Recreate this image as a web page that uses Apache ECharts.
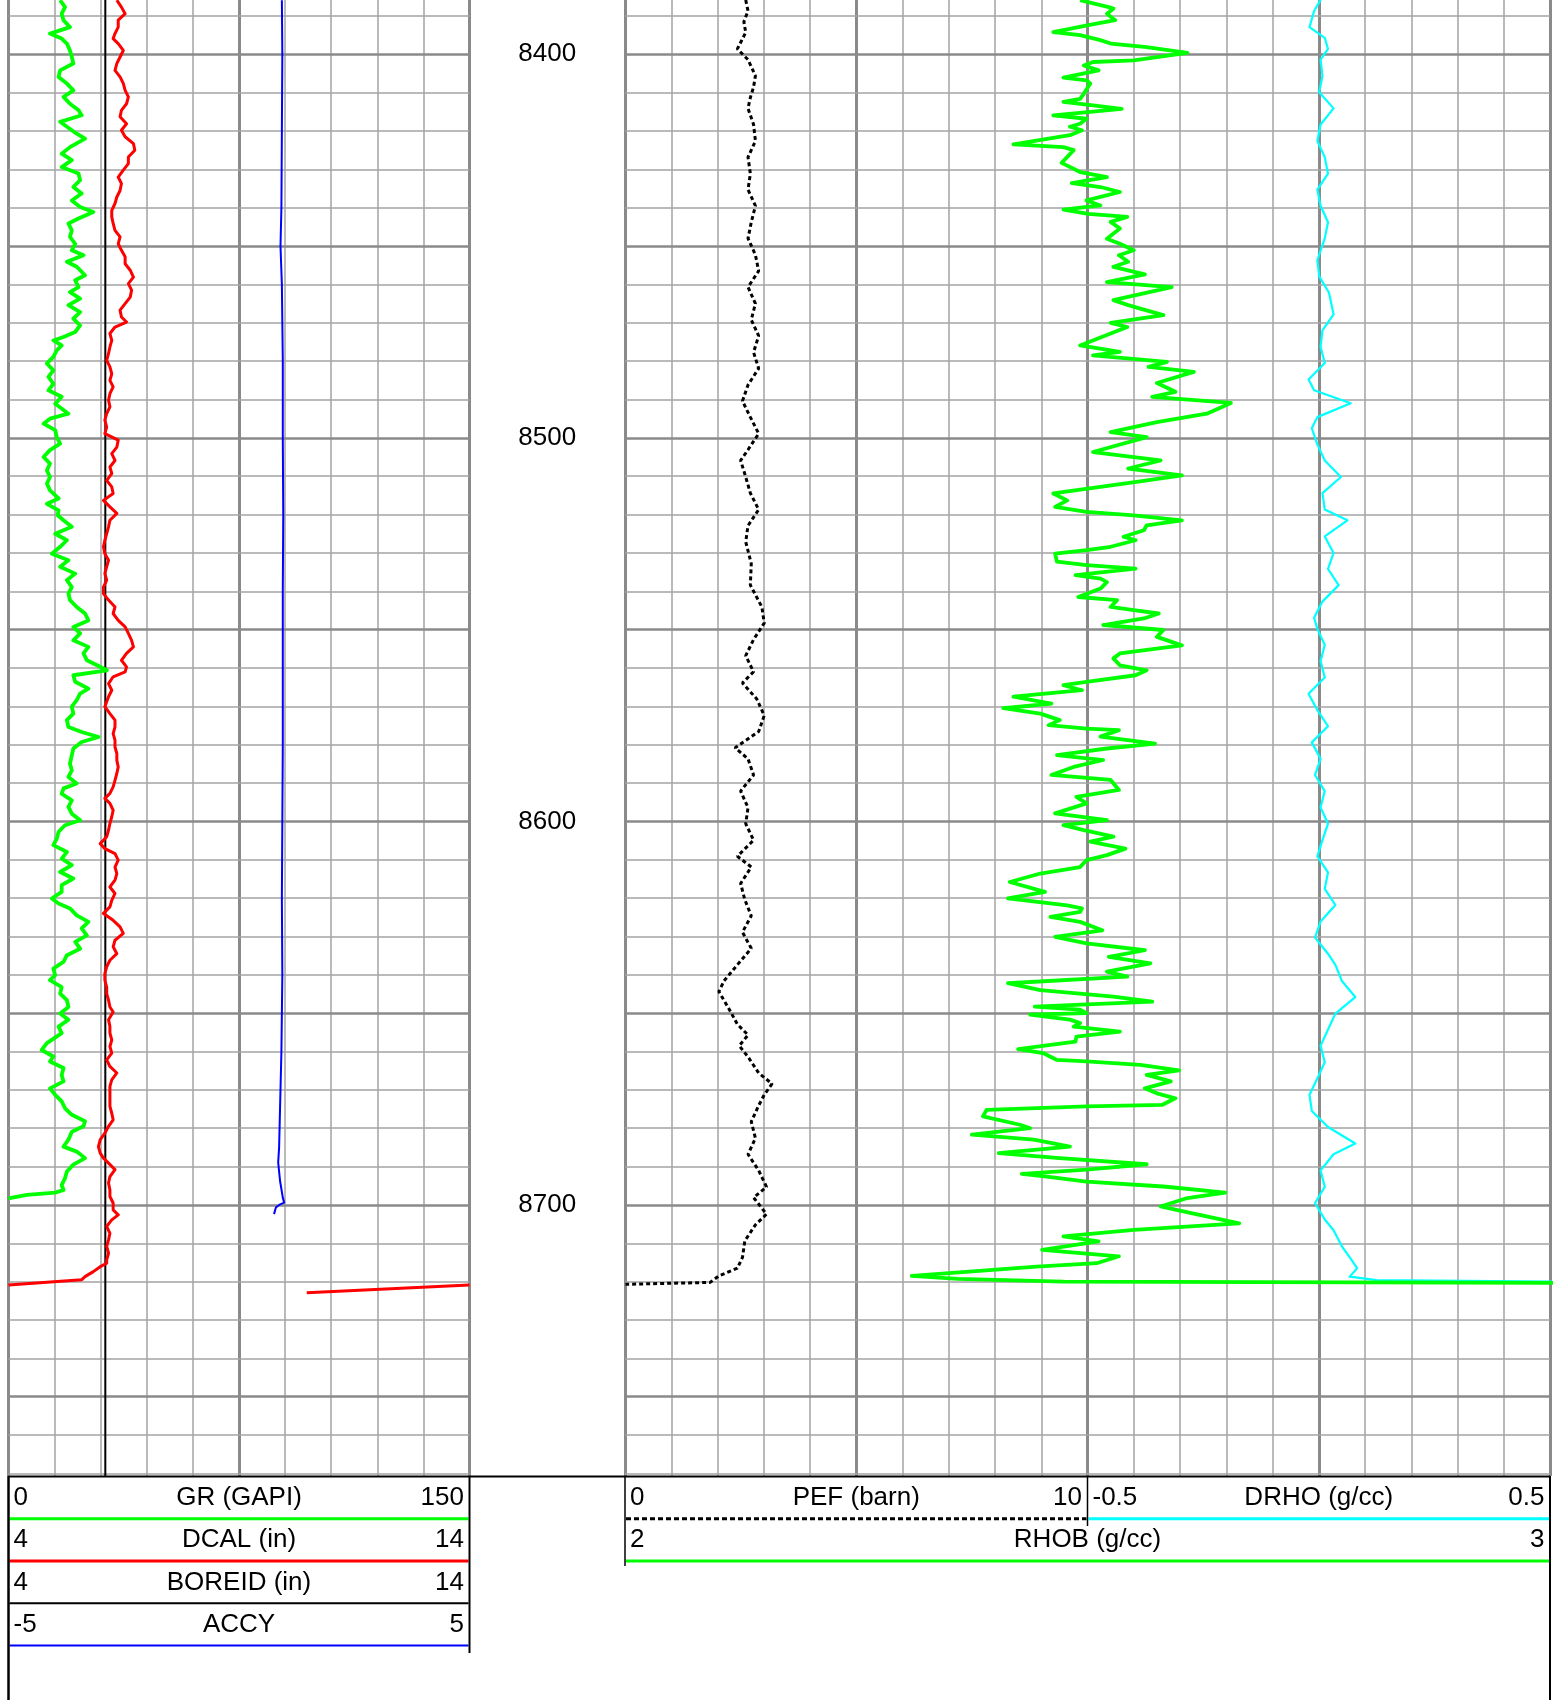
<!DOCTYPE html>
<html>
<head>
<meta charset="utf-8">
<title>Well log</title>
<script src="https://cdn.jsdelivr.net/npm/echarts@6/dist/echarts.min.js"></script>
<style>
  html, body { margin: 0; padding: 0; background: #ffffff; }
  #chart { width: 1564px; height: 1700px; }
</style>
</head>
<body>
<div id="chart"></div>
<script>
// ---- depth window (ft) ----
const DEPTH_TOP = 8385.84;
const DEPTH_BASE = 8770.68;
const DEPTH_LABELS = [8400, 8500, 8600, 8700];

// ---- curves: [depth ft, value] ----
const GR = [[8385.9,16.8],[8387.7,18.4],[8389.4,17.3],[8391.1,17.9],[8392.9,20.0],[8394.6,13.5],[8395.9,17.3],[8397.2,19.0],[8399.0,20.0],[8400.7,20.6],[8402.4,21.1],[8404.2,16.8],[8405.9,16.3],[8407.6,19.0],[8409.4,21.1],[8411.1,17.9],[8412.9,20.0],[8414.6,22.8],[8415.9,23.8],[8417.6,16.8],[8418.9,19.0],[8420.7,22.2],[8422.0,24.9],[8424.2,20.0],[8425.9,17.3],[8427.6,20.6],[8429.4,17.3],[8431.1,22.8],[8432.8,23.3],[8434.6,21.1],[8436.3,23.8],[8438.1,20.6],[8439.8,23.3],[8441.1,27.6],[8442.8,22.8],[8444.1,19.5],[8445.9,20.6],[8447.6,20.0],[8449.4,21.7],[8451.1,20.6],[8452.4,24.4],[8454.1,19.0],[8455.4,22.2],[8457.6,24.9],[8458.9,21.7],[8460.7,22.8],[8462.0,20.0],[8463.7,23.3],[8465.4,19.5],[8467.2,23.3],[8468.9,21.1],[8470.7,23.3],[8472.4,21.7],[8473.7,17.9],[8474.6,14.6],[8475.9,17.3],[8477.2,15.7],[8478.9,14.6],[8480.6,12.5],[8482.4,14.6],[8484.1,13.0],[8485.9,14.6],[8487.6,13.0],[8489.3,17.3],[8491.1,15.2],[8493.7,19.5],[8495.0,13.5],[8496.3,11.4],[8498.0,15.2],[8499.8,15.7],[8501.5,16.8],[8503.2,13.5],[8505.0,11.4],[8506.7,13.5],[8508.5,12.5],[8510.2,13.5],[8511.9,12.5],[8513.7,13.5],[8515.8,16.3],[8517.2,12.5],[8518.9,16.3],[8520.2,16.0],[8521.5,17.9],[8523.2,20.6],[8525.0,15.2],[8526.7,19.0],[8528.4,16.8],[8530.2,14.1],[8531.9,19.5],[8533.6,16.8],[8535.4,21.7],[8537.1,19.0],[8538.9,20.6],[8540.6,19.5],[8542.3,20.0],[8544.1,22.2],[8545.8,24.9],[8547.6,26.0],[8549.3,21.1],[8551.0,23.3],[8552.8,21.1],[8554.5,26.0],[8556.2,24.4],[8558.0,25.5],[8559.7,29.8],[8560.6,32.0],[8561.9,21.1],[8563.6,21.7],[8565.4,26.0],[8566.7,23.3],[8568.4,22.2],[8570.1,20.6],[8571.9,21.1],[8573.6,19.0],[8575.4,19.5],[8576.7,23.8],[8578.0,29.3],[8579.3,23.8],[8581.0,21.1],[8582.8,20.6],[8584.9,20.0],[8586.7,20.6],[8588.4,19.5],[8590.1,22.2],[8591.4,17.9],[8592.8,17.3],[8594.5,20.6],[8596.2,19.5],[8598.0,20.6],[8599.7,23.3],[8601.0,18.4],[8602.7,16.3],[8604.5,15.7],[8606.2,14.6],[8608.0,19.0],[8609.7,17.3],[8611.4,20.6],[8613.2,16.8],[8614.9,21.1],[8616.6,17.3],[8618.4,17.3],[8620.1,14.1],[8621.4,16.3],[8622.7,20.0],[8624.5,22.2],[8626.2,26.0],[8627.9,23.8],[8629.7,25.5],[8631.4,21.7],[8633.2,23.3],[8634.9,19.0],[8636.6,17.9],[8638.4,14.6],[8640.1,15.2],[8641.4,13.5],[8643.2,17.3],[8644.9,16.8],[8646.6,19.0],[8648.4,19.5],[8650.1,16.8],[8651.7,19.5],[8653.5,16.3],[8655.2,17.3],[8657.8,12.5],[8659.6,10.8],[8661.3,14.6],[8662.6,13.5],[8664.3,17.9],[8666.1,17.3],[8667.8,17.9],[8669.6,13.5],[8671.3,15.2],[8673.0,17.3],[8674.8,18.4],[8676.5,20.6],[8678.2,24.9],[8679.5,24.4],[8680.9,20.6],[8683.0,19.5],[8684.8,17.9],[8686.1,22.2],[8687.8,24.9],[8689.5,21.1],[8691.3,19.0],[8693.0,18.4],[8694.8,17.3],[8696.1,17.9],[8696.8,15.2],[8697.4,6.0],[8698.3,0.0]];

const DCAL = [[8385.9,6.35],[8387.7,6.45],[8389.4,6.53],[8391.1,6.38],[8392.9,6.38],[8394.6,6.31],[8395.9,6.27],[8397.2,6.38],[8399.0,6.49],[8400.7,6.42],[8402.4,6.35],[8404.2,6.31],[8405.9,6.42],[8407.6,6.49],[8409.4,6.53],[8411.1,6.60],[8412.9,6.56],[8414.6,6.45],[8416.3,6.42],[8418.1,6.56],[8419.8,6.45],[8421.5,6.53],[8423.3,6.71],[8425.0,6.74],[8426.8,6.60],[8428.5,6.60],[8430.2,6.49],[8432.0,6.38],[8433.7,6.45],[8435.5,6.42],[8437.2,6.35],[8438.9,6.31],[8440.7,6.24],[8442.4,6.24],[8444.1,6.27],[8445.9,6.31],[8447.6,6.42],[8449.4,6.38],[8451.1,6.45],[8452.8,6.53],[8454.6,6.53],[8456.3,6.64],[8458.1,6.71],[8459.8,6.60],[8461.5,6.67],[8463.3,6.64],[8465.0,6.53],[8466.7,6.42],[8468.5,6.45],[8469.8,6.56],[8471.1,6.31],[8472.8,6.20],[8474.6,6.24],[8476.3,6.20],[8478.0,6.17],[8479.8,6.13],[8481.5,6.20],[8483.3,6.24],[8485.0,6.20],[8486.7,6.27],[8488.5,6.20],[8490.2,6.17],[8491.9,6.20],[8493.7,6.13],[8495.4,6.09],[8497.2,6.13],[8498.9,6.09],[8500.6,6.38],[8502.4,6.35],[8504.1,6.24],[8505.9,6.31],[8507.6,6.20],[8509.3,6.24],[8511.1,6.13],[8512.8,6.24],[8514.5,6.27],[8516.3,6.06],[8518.0,6.20],[8519.7,6.35],[8521.5,6.20],[8523.2,6.17],[8525.0,6.13],[8526.7,6.09],[8528.4,6.06],[8530.2,6.09],[8531.9,6.17],[8533.6,6.13],[8535.4,6.09],[8537.1,6.13],[8538.9,6.06],[8540.6,6.06],[8542.3,6.17],[8544.1,6.31],[8545.8,6.27],[8547.6,6.38],[8549.3,6.53],[8551.0,6.60],[8552.8,6.67],[8554.5,6.71],[8556.2,6.56],[8558.0,6.45],[8559.7,6.56],[8561.0,6.53],[8562.3,6.27],[8564.1,6.17],[8565.8,6.24],[8567.5,6.17],[8570.1,6.09],[8571.9,6.20],[8573.6,6.31],[8575.4,6.31],[8577.1,6.27],[8578.8,6.31],[8580.6,6.31],[8582.3,6.35],[8584.1,6.35],[8585.8,6.38],[8587.5,6.35],[8589.3,6.31],[8591.0,6.27],[8592.7,6.20],[8594.0,6.09],[8595.3,6.20],[8597.1,6.27],[8598.8,6.24],[8600.5,6.20],[8602.3,6.17],[8604.0,6.13],[8605.8,5.99],[8607.1,6.09],[8608.4,6.31],[8610.1,6.38],[8611.9,6.31],[8613.6,6.35],[8615.3,6.31],[8617.1,6.20],[8618.8,6.31],[8620.6,6.24],[8622.3,6.20],[8624.0,6.06],[8625.8,6.27],[8627.5,6.42],[8629.2,6.49],[8631.0,6.31],[8632.7,6.27],[8634.5,6.35],[8636.2,6.20],[8637.9,6.13],[8639.7,6.09],[8641.4,6.09],[8643.2,6.13],[8644.9,6.13],[8646.6,6.17],[8648.4,6.20],[8649.7,6.27],[8651.7,6.17],[8653.5,6.20],[8655.2,6.20],[8657.0,6.24],[8658.7,6.20],[8660.4,6.24],[8662.2,6.13],[8663.9,6.20],[8665.6,6.35],[8667.4,6.24],[8669.1,6.20],[8670.9,6.20],[8672.6,6.20],[8674.3,6.20],[8676.1,6.24],[8677.8,6.27],[8679.5,6.17],[8681.3,6.09],[8683.0,5.99],[8684.8,5.95],[8686.5,5.99],[8687.8,6.06],[8689.1,6.17],[8690.8,6.31],[8692.6,6.20],[8694.3,6.17],[8696.1,6.20],[8697.8,6.20],[8699.5,6.27],[8701.3,6.27],[8702.6,6.38],[8703.9,6.24],[8705.6,6.13],[8707.4,6.20],[8709.1,6.17],[8710.8,6.13],[8712.6,6.17],[8714.3,6.13],[8715.2,6.13],[8716.1,5.99],[8717.4,5.84],[8718.7,5.66],[8719.5,5.59],[8720.9,4.0],[8722.9,0.47]];

const BOREID = [[8385.84,6.1],[8770.68,6.1]];

const ACCY = [[8385.9,0.93],[8400,0.94],[8420,0.93],[8440,0.92],[8450,0.90],[8460,0.93],[8480,0.95],[8500,0.95],[8520,0.96],[8540,0.95],[8560,0.95],[8580,0.95],[8600,0.94],[8620,0.93],[8640,0.94],[8660,0.92],[8675,0.89],[8685.0,0.87],[8688.9,0.85],[8693.7,0.89],[8698.1,0.95],[8699.4,0.98],[8700.0,0.87],[8700.7,0.80],[8702.4,0.76]];

const PEF = [[8385.84,2.61],[8388.7,2.66],[8391.5,2.57],[8394.3,2.61],[8398.6,2.43],[8401.4,2.66],[8405.6,2.82],[8408.5,2.78],[8411.3,2.71],[8414.1,2.66],[8418.3,2.78],[8422.6,2.82],[8426.8,2.66],[8431.1,2.71],[8435.3,2.66],[8439.5,2.82],[8443.8,2.73],[8448.0,2.66],[8452.3,2.82],[8456.5,2.89],[8460.7,2.66],[8465.0,2.82],[8469.2,2.73],[8473.4,2.89],[8477.7,2.78],[8481.9,2.89],[8486.2,2.66],[8490.4,2.54],[8494.6,2.71],[8498.9,2.89],[8503.1,2.66],[8505.9,2.50],[8510.2,2.61],[8514.4,2.71],[8518.7,2.89],[8522.9,2.66],[8527.1,2.61],[8532.8,2.73],[8538.4,2.71],[8544.1,2.96],[8548.3,3.01],[8552.6,2.78],[8556.8,2.61],[8561.0,2.78],[8563.9,2.54],[8568.1,2.85],[8572.4,3.01],[8576.6,2.89],[8580.8,2.38],[8583.7,2.66],[8587.9,2.78],[8592.1,2.50],[8596.4,2.66],[8600.6,2.61],[8604.9,2.78],[8609.1,2.43],[8611.9,2.73],[8616.2,2.50],[8620.4,2.59],[8624.6,2.73],[8628.9,2.54],[8633.1,2.73],[8637.4,2.43],[8641.6,2.14],[8644.4,2.03],[8648.7,2.24],[8652.9,2.43],[8655.7,2.66],[8658.5,2.47],[8661.4,2.66],[8665.6,2.89],[8668.4,3.18],[8671.3,3.01],[8674.1,2.89],[8678.3,2.73],[8682.6,2.82],[8686.8,2.66],[8691.0,2.89],[8695.3,3.06],[8698.1,2.78],[8702.4,3.06],[8705.2,2.82],[8709.4,2.59],[8713.7,2.54],[8716.5,2.43],[8718.5,2.03],[8720.2,1.84],[8720.7,0.01]];

const RHOB = [[8385.9,2.492],[8387.7,2.523],[8388.1,2.528],[8389.4,2.521],[8391.1,2.530],[8392.4,2.501],[8394.2,2.463],[8395.0,2.492],[8396.3,2.514],[8397.2,2.525],[8398.1,2.564],[8399.6,2.608],[8401.6,2.550],[8402.0,2.506],[8402.9,2.496],[8404.2,2.512],[8406.1,2.474],[8406.8,2.499],[8407.6,2.503],[8410.3,2.496],[8411.6,2.492],[8412.4,2.474],[8413.3,2.506],[8414.2,2.537],[8415.9,2.463],[8416.8,2.499],[8418.1,2.492],[8418.9,2.481],[8419.8,2.494],[8421.1,2.481],[8423.5,2.420],[8424.2,2.474],[8425.0,2.485],[8428.3,2.472],[8430.7,2.492],[8432.0,2.521],[8433.6,2.483],[8434.6,2.514],[8435.9,2.535],[8438.1,2.499],[8439.4,2.514],[8440.5,2.474],[8441.6,2.501],[8442.4,2.543],[8443.7,2.525],[8445.4,2.535],[8448.1,2.521],[8449.4,2.535],[8451.1,2.550],[8452.4,2.534],[8454.1,2.544],[8455.4,2.528],[8457.4,2.562],[8459.4,2.521],[8460.7,2.591],[8464.1,2.528],[8465.4,2.544],[8466.3,2.557],[8468.0,2.582],[8470.0,2.525],[8471.1,2.543],[8475.9,2.492],[8477.6,2.535],[8478.5,2.506],[8480.2,2.586],[8481.5,2.566],[8482.8,2.615],[8485.7,2.575],[8488.0,2.595],[8489.3,2.570],[8490.9,2.655],[8493.7,2.629],[8495.9,2.575],[8498.5,2.525],[8499.8,2.564],[8503.7,2.506],[8505.9,2.579],[8508.0,2.544],[8509.8,2.602],[8511.5,2.553],[8514.5,2.463],[8516.3,2.478],[8518.0,2.465],[8519.3,2.499],[8520.2,2.550],[8521.5,2.602],[8522.8,2.564],[8524.1,2.561],[8525.8,2.539],[8526.7,2.552],[8528.4,2.525],[8529.3,2.499],[8530.2,2.465],[8532.3,2.467],[8533.2,2.499],[8534.1,2.552],[8535.8,2.487],[8536.7,2.514],[8537.6,2.521],[8539.3,2.514],[8541.5,2.490],[8542.3,2.532],[8544.1,2.525],[8544.9,2.550],[8545.8,2.577],[8547.1,2.561],[8548.8,2.517],[8550.1,2.582],[8551.9,2.575],[8554.1,2.602],[8556.2,2.535],[8557.5,2.528],[8559.3,2.535],[8560.6,2.564],[8561.9,2.552],[8563.6,2.499],[8564.5,2.474],[8565.8,2.494],[8567.5,2.420],[8568.8,2.449],[8569.3,2.461],[8570.5,2.409],[8571.9,2.449],[8573.6,2.470],[8574.9,2.458],[8575.8,2.499],[8576.2,2.534],[8577.9,2.514],[8579.7,2.573],[8581.0,2.521],[8582.7,2.467],[8584.0,2.517],[8585.8,2.485],[8587.9,2.461],[8589.2,2.525],[8591.8,2.534],[8593.6,2.488],[8595.3,2.499],[8597.9,2.465],[8599.7,2.521],[8601.0,2.474],[8602.3,2.496],[8604.0,2.528],[8605.3,2.503],[8607.1,2.541],[8608.8,2.521],[8610.1,2.499],[8611.9,2.492],[8613.6,2.449],[8615.8,2.416],[8618.4,2.454],[8620.1,2.414],[8621.9,2.478],[8622.7,2.494],[8623.6,2.492],[8624.9,2.460],[8626.2,2.492],[8628.4,2.516],[8630.1,2.465],[8631.8,2.499],[8633.6,2.562],[8635.3,2.523],[8637.0,2.568],[8639.2,2.521],[8640.5,2.543],[8642.2,2.414],[8644.0,2.449],[8645.7,2.528],[8647.0,2.570],[8648.3,2.443],[8649.1,2.492],[8650.0,2.499],[8650.4,2.438],[8651.7,2.481],[8652.6,2.492],[8653.5,2.485],[8654.8,2.535],[8656.1,2.488],[8657.4,2.487],[8659.4,2.425],[8660.4,2.452],[8662.2,2.467],[8662.6,2.499],[8663.5,2.557],[8664.9,2.599],[8666.1,2.564],[8667.8,2.590],[8669.6,2.562],[8670.9,2.575],[8672.2,2.595],[8673.9,2.581],[8674.3,2.499],[8675.2,2.391],[8676.9,2.387],[8679.1,2.427],[8680.0,2.438],[8681.7,2.375],[8683.0,2.442],[8684.8,2.481],[8686.5,2.404],[8687.8,2.470],[8689.4,2.564],[8690.8,2.499],[8691.9,2.429],[8692.6,2.456],[8693.9,2.499],[8695.2,2.582],[8696.8,2.649],[8698.2,2.608],[8700.4,2.579],[8702.1,2.611],[8704.8,2.664],[8706.5,2.550],[8708.2,2.474],[8709.5,2.512],[8711.7,2.451],[8713.4,2.534],[8715.2,2.510],[8716.1,2.445],[8718.5,2.310],[8719.3,2.360],[8720.0,2.474],[8720.5,3.300]];

const DRHO = [[8385.8,0.004],[8388.7,-0.010],[8392.9,-0.020],[8395.7,0.013],[8398.6,0.020],[8401.4,0.004],[8405.6,0.008],[8409.9,0.001],[8414.1,0.032],[8418.3,0.004],[8422.6,-0.003],[8426.8,0.013],[8431.1,0.020],[8435.3,-0.003],[8439.5,0.004],[8443.8,0.020],[8448.0,0.013],[8453.7,-0.003],[8457.9,0.001],[8462.1,0.022],[8467.8,0.032],[8472.0,0.008],[8476.3,0.004],[8480.5,0.013],[8484.8,-0.022],[8487.6,-0.010],[8491.0,0.069],[8494.6,-0.003],[8497.5,-0.015],[8501.7,-0.003],[8505.9,0.013],[8510.2,0.048],[8514.4,0.008],[8518.7,0.013],[8521.5,0.062],[8525.7,0.013],[8530.0,0.032],[8534.2,0.020],[8538.4,0.043],[8542.7,0.008],[8546.9,-0.010],[8549.8,-0.003],[8554.0,0.013],[8558.2,0.004],[8562.5,0.013],[8566.7,-0.022],[8571.0,-0.003],[8575.2,0.020],[8579.4,-0.015],[8583.7,0.004],[8587.9,-0.008],[8592.1,0.013],[8596.4,0.004],[8600.6,0.020],[8604.9,0.008],[8609.1,-0.003],[8613.3,0.020],[8617.6,0.013],[8621.8,0.036],[8626.1,0.004],[8630.3,-0.008],[8634.5,0.020],[8637.4,0.036],[8641.6,0.050],[8645.8,0.079],[8650.1,0.036],[8654.3,0.020],[8658.5,0.004],[8662.8,0.013],[8667.0,-0.003],[8671.3,-0.020],[8675.5,-0.015],[8679.7,0.020],[8684.0,0.079],[8686.8,0.032],[8691.0,0.004],[8695.3,0.013],[8699.5,-0.008],[8703.8,0.013],[8706.6,0.032],[8710.8,0.050],[8713.7,0.067],[8716.5,0.083],[8718.7,0.067],[8719.6,0.125],[8720.4,0.900]];

// ---- layout ----
const PLOT_H = 1476;
const LEFT = { x: 8.5, w: 461 };     // GR / caliper track
const RIGHT = { x: 625, w: 925 };    // density / PEF track
const HALF = RIGHT.w / 2;
const DEPTH_CENTER = (LEFT.x + LEFT.w + RIGHT.x) / 2;
const FONT_FAMILY = '"Liberation Sans", Arial, sans-serif';
const FONT = '26px ' + FONT_FAMILY;
const GRID_THIN = { color: '#a3a3a3', width: 1.5 };
const GRID_THICK = { color: '#8a8a8a', width: 3 };

// values below the scale minimum wrap around onto the right edge of the track
function wrapCurve(points, lo, span) {
  const main = [], wrapped = [];
  for (let i = 0; i < points.length; i++) {
    const [d, v] = points[i];
    if (v >= lo) {
      main.push([v, d]);
    } else {
      const prev = points[i - 1];
      if (prev && prev[1] >= lo) {
        const t = (prev[1] - lo) / (prev[1] - v);
        const dc = prev[0] + t * (d - prev[0]);
        if (prev[1] > lo) main.push([lo, dc]);
        wrapped.push([lo + span, dc]);
      }
      wrapped.push([v + span, d]);
    }
  }
  return { main, wrapped };
}
const toXY = arr => arr.map(([d, v]) => [v, d]);
const dcalParts = wrapCurve(DCAL, 4, 10);

// horizontal grid: every 10 ft, heavier every 50 ft
const depthGrid = [];
for (let d = 8390; d <= 8770; d += 10) {
  depthGrid.push({ yAxis: d, lineStyle: d % 50 === 0 ? { ...GRID_THICK, width: 2.5 } : GRID_THIN });
}
const gridMarkLine = {
  silent: true, symbol: 'none', z: 1, animation: false,
  label: { show: false }, lineStyle: { type: 'solid' },
  emphasis: { disabled: true },
  data: depthGrid
};

function frameAxis(gridIndex, max, interval, style) {
  return {
    type: 'value', gridIndex, min: 0, max, interval,
    axisLine: { show: false }, axisTick: { show: false }, axisLabel: { show: false },
    splitLine: { show: true, showMinLine: true, showMaxLine: true, lineStyle: style }
  };
}
function curveAxis(gridIndex, min, max) {
  return {
    type: 'value', gridIndex, min, max,
    axisLine: { show: false }, axisTick: { show: false }, axisLabel: { show: false },
    splitLine: { show: false }
  };
}
function depthAxis(gridIndex, withLabels) {
  return {
    type: 'value', gridIndex, inverse: true, min: DEPTH_TOP, max: DEPTH_BASE,
    position: 'left',
    axisLine: { show: false }, axisTick: { show: false }, splitLine: { show: false },
    axisLabel: withLabels ? {
      show: true, customValues: DEPTH_LABELS, margin: RIGHT.x - DEPTH_CENTER,
      align: 'center', verticalAlign: 'middle', color: '#000000',
      fontSize: 26, fontFamily: FONT_FAMILY,
      formatter: v => String(Math.round(v))
    } : { show: false }
  };
}
function curve(name, xAxisIndex, yAxisIndex, data, color, width, extra) {
  return Object.assign({
    name, type: 'line', xAxisIndex, yAxisIndex, data,
    showSymbol: false, symbol: 'none', clip: true, z: 3, silent: true,
    lineStyle: { color, width, join: 'round', cap: 'butt' },
    animation: false
  }, extra || {});
}

// ---- header (curve scales under each track) ----
const ROW_TEXT_Y = 1498, ROW_LINE_Y = 1518.7, ROW_STEP = 42.3;
const headerRows = [
  { x0: LEFT.x, x1: LEFT.x + LEFT.w, row: 0, lo: '0', name: 'GR (GAPI)', hi: '150', color: '#00ff00', width: 3 },
  { x0: LEFT.x, x1: LEFT.x + LEFT.w, row: 1, lo: '4', name: 'DCAL (in)', hi: '14', color: '#ff0000', width: 3 },
  { x0: LEFT.x, x1: LEFT.x + LEFT.w, row: 2, lo: '4', name: 'BOREID (in)', hi: '14', color: '#000000', width: 2 },
  { x0: LEFT.x, x1: LEFT.x + LEFT.w, row: 3, lo: '-5', name: 'ACCY', hi: '5', color: '#0000ff', width: 2 },
  { x0: RIGHT.x, x1: RIGHT.x + HALF, row: 0, lo: '0', name: 'PEF (barn)', hi: '10', color: '#000000', width: 3, dash: [5, 3] },
  { x0: RIGHT.x + HALF, x1: RIGHT.x + RIGHT.w, row: 0, lo: '-0.5', name: 'DRHO (g/cc)', hi: '0.5', color: '#00ffff', width: 3 },
  { x0: RIGHT.x, x1: RIGHT.x + RIGHT.w, row: 1, lo: '2', name: 'RHOB (g/cc)', hi: '3', color: '#00ff00', width: 3 }
];
const graphics = [];
function text(str, x, y, align) {
  graphics.push({
    type: 'text', silent: true, z: 10,
    style: { text: str, x, y, font: FONT, fill: '#000000',
             align, textAlign: align, verticalAlign: 'middle', textVerticalAlign: 'middle' }
  });
}
function rule(x1, y1, x2, y2, stroke, lineWidth, lineDash) {
  graphics.push({
    type: 'line', silent: true, z: 10,
    shape: { x1, y1, x2, y2 },
    style: { stroke, lineWidth, lineDash: lineDash || null }
  });
}
headerRows.forEach(r => {
  const ty = ROW_TEXT_Y + r.row * ROW_STEP;
  const ly = ROW_LINE_Y + r.row * ROW_STEP;
  text(r.lo, r.x0 + 5, ty, 'left');
  text(r.name, (r.x0 + r.x1) / 2, ty, 'center');
  text(r.hi, r.x1 - 5.5, ty, 'right');
  rule(r.x0 + 1, ly, r.x1 - 1, ly, r.color, r.width, r.dash);
});
// header frames
rule(LEFT.x, PLOT_H + 0.5, RIGHT.x + RIGHT.w, PLOT_H + 0.5, '#000000', 2);
rule(LEFT.x, PLOT_H, LEFT.x, 1700, '#000000', 2.5);
rule(LEFT.x + LEFT.w, PLOT_H, LEFT.x + LEFT.w, 1653, '#000000', 2);
rule(RIGHT.x, PLOT_H, RIGHT.x, 1566, '#000000', 1.5);
rule(RIGHT.x + HALF, PLOT_H, RIGHT.x + HALF, 1526, '#000000', 1.5);
rule(RIGHT.x + RIGHT.w, PLOT_H, RIGHT.x + RIGHT.w, 1700, '#000000', 2);

const option = {
  backgroundColor: '#ffffff',
  animation: false,
  grid: [
    { left: LEFT.x, top: 0, width: LEFT.w, height: PLOT_H, containLabel: false },
    { left: RIGHT.x, top: 0, width: RIGHT.w, height: PLOT_H, containLabel: false }
  ],
  xAxis: [
    frameAxis(0, 10, 1, GRID_THIN),        // 0
    frameAxis(0, 10, 5, GRID_THICK),       // 1
    curveAxis(0, 0, 150),                  // 2 GR
    curveAxis(0, 4, 14),                   // 3 DCAL / BOREID
    curveAxis(0, -5, 5),                   // 4 ACCY
    frameAxis(1, 20, 1, GRID_THIN),        // 5
    frameAxis(1, 20, 5, GRID_THICK),       // 6
    curveAxis(1, 0, 20),                   // 7 PEF (0-10 over the left half)
    curveAxis(1, 2, 3),                    // 8 RHOB
    curveAxis(1, -1.5, 0.5)                // 9 DRHO (-0.5..0.5 over the right half)
  ],
  yAxis: [depthAxis(0, false), depthAxis(1, true)],
  series: [
    curve('BOREID', 3, 0, toXY(BOREID), '#000000', 2, { markLine: gridMarkLine, z: 2 }),
    curve('ACCY', 4, 0, toXY(ACCY), '#0000ff', 2),
    curve('DCAL', 3, 0, dcalParts.main, '#ff0000', 3),
    curve('DCAL wrap', 3, 0, dcalParts.wrapped, '#ff0000', 3),
    curve('GR', 2, 0, toXY(GR), '#00ff00', 3.8),
    curve('DRHO', 9, 1, toXY(DRHO), '#00ffff', 2.2),
    curve('RHOB', 8, 1, toXY(RHOB), '#00ff00', 3.8, { markLine: gridMarkLine }),
    curve('PEF', 7, 1, toXY(PEF), '#000000', 3, {
      lineStyle: { color: '#000000', width: 3, type: [4, 3] }
    })
  ],
  graphic: graphics
};

const chart = echarts.init(document.getElementById('chart'), null, { renderer: 'canvas', width: 1564, height: 1700 });
chart.setOption(option);
</script>
</body>
</html>
